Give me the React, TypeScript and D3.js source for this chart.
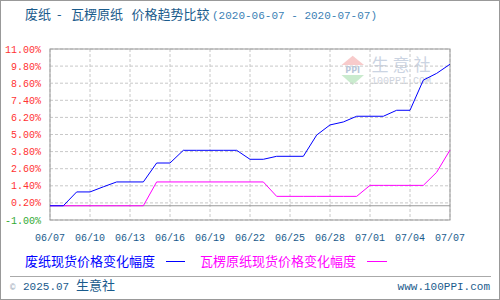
import React from "react";
import * as d3 from "d3";

const dates: string[] = [
  "06/07","06/08","06/09","06/10","06/11","06/12","06/13","06/14","06/15","06/16",
  "06/17","06/18","06/19","06/20","06/21","06/22","06/23","06/24","06/25","06/26",
  "06/27","06/28","06/29","06/30","07/01","07/02","07/03","07/04","07/05","07/06","07/07",
];
const wastePaper: number[] = [
  0, 0, 0.97, 0.97, 1.33, 1.67, 1.67, 1.67, 3.0, 3.0,
  3.89, 3.89, 3.89, 3.89, 3.89, 3.26, 3.26, 3.47, 3.47, 3.47,
  4.96, 5.67, 5.88, 6.28, 6.28, 6.28, 6.7, 6.7, 8.82, 9.29, 9.93,
];
const corrugated: number[] = [
  0, 0, 0, 0, 0, 0, 0, 0, 1.67, 1.67,
  1.67, 1.67, 1.67, 1.67, 1.67, 1.67, 1.67, 0.66, 0.66, 0.66,
  0.66, 0.66, 0.66, 0.66, 1.43, 1.43, 1.43, 1.43, 1.43, 2.35, 3.91,
];
const yTicks: number[] = [11, 9.8, 8.6, 7.4, 6.2, 5.0, 3.8, 2.6, 1.4, 0.2, -1.0];
const xTickLabels: string[] = ["06/07","06/10","06/13","06/16","06/19","06/22","06/25","06/28","07/01","07/04","07/07"];

const MONO = "'Liberation Mono', 'DejaVu Sans Mono', monospace";
const CJK = "'Noto Sans CJK SC', sans-serif";

export default function App() {
  const left = 50, right = 450, top = 49, bottom = 220;
  const x = d3.scaleLinear().domain([0, dates.length - 1]).range([left, right]);
  const y = d3.scaleLinear().domain([-1, 11]).range([bottom, top]);
  const line = d3.line<number>().x((_, i) => x(i)).y((d) => y(d));
  const textColor = "#1a5b8c";

  return (
    <svg width={500} height={300} style={{ position: "absolute", left: 0, top: 0, background: "#fff" }}>
      <rect x={0.5} y={0.5} width={499} height={299} fill="#fff" stroke="#999" />
      {/* title */}
      <text y={19} fontFamily={CJK} fontSize={13} fill={textColor}>
        <tspan x={25}>废纸</tspan>
        <tspan x={57}>-</tspan>
        <tspan x={71}>瓦楞原纸</tspan>
        <tspan x={131.5}>价格趋势比较</tspan>
      </text>
      <text x={212} y={19} fontFamily={MONO} fontSize={11} fill="#3b7fb5">(2020-06-07 - 2020-07-07)</text>

      {/* watermark */}
      <g opacity={0.6}>
        <path d="M352.7,55.7 L364,65 L341.5,65 Z" fill="#f4a9a9" />
        <text x={352.7} y={73} textAnchor="middle" fontFamily="'DejaVu Sans', sans-serif" fontSize={8} fontWeight="bold" fill="#8a9fc0">PPI</text>
        <path d="M341.5,75 L364,75 L352.7,85 Z" fill="#a8dfae" />
        <text x={371.5} y={71} fontFamily={CJK} fontSize={17} fill="#a9b8d0" letterSpacing={4}>生意社</text>
        <text x={371} y={84} fontFamily={MONO} fontSize={10} fill="#b0b8c8">100PPI.COM</text>
      </g>

      {/* grid */}
      {yTicks.map((t, i) => (
        <line key={"gy" + i} x1={left} x2={right} y1={y(t)} y2={y(t)} stroke="#c8c8c8" strokeDasharray="3,2" />
      ))}
      {xTickLabels.map((_, i) => (
        <line key={"gx" + i} x1={x(i * 3)} x2={x(i * 3)} y1={top} y2={bottom} stroke="#c8c8c8" strokeDasharray="3,2" />
      ))}
      <line x1={left} x2={right} y1={y(0)} y2={y(0)} stroke="#999" />
      <rect x={left} y={top} width={right - left} height={bottom - top} fill="none" stroke="#999" />

      {/* y labels */}
      {yTicks.map((t, i) => (
        <text key={"yl" + i} x={41} y={y(t) + 3.5} textAnchor="end" fontFamily={MONO} fontSize={10}
          fill={t < 0 ? "#33aa33" : "#ff3333"}>{t.toFixed(2) + "%"}</text>
      ))}
      {/* x labels */}
      {xTickLabels.map((l, i) => (
        <text key={"xl" + i} x={x(i * 3)} y={241} textAnchor="middle" fontFamily={MONO} fontSize={10} fill={textColor}>{l}</text>
      ))}

      {/* lines */}
      <path d={line(corrugated) || ""} fill="none" stroke="#ff00ff" strokeWidth={1} />
      <path d={line(wastePaper) || ""} fill="none" stroke="#0000ff" strokeWidth={1} />

      {/* legend */}
      <text x={25} y={266} fontFamily={CJK} fontSize={13} fill="#0000ff">废纸现货价格变化幅度</text>
      <line x1={166} x2={185} y1={261.5} y2={261.5} stroke="#0000ff" />
      <text x={200} y={266} fontFamily={CJK} fontSize={13} fill="#ff00ff">瓦楞原纸现货价格变化幅度</text>
      <line x1={367} x2={387} y1={261.5} y2={261.5} stroke="#ff00ff" />

      {/* footer */}
      <line x1={10} x2={491} y1={276.5} y2={276.5} stroke="#aaa" />
      <text x={10} y={290} fontFamily={MONO} fontSize={9} fill="#9aa8b8">©</text>
      <text x={23} y={290} fontFamily={MONO} fontSize={11} fill={textColor}>2025.07</text>
      <text x={76} y={290} fontFamily={CJK} fontSize={13} fill={textColor}>生意社</text>
      <text x={490} y={290} textAnchor="end" fontFamily={MONO} fontSize={11} fill={textColor}>www.100PPI.com</text>
    </svg>
  );
}
